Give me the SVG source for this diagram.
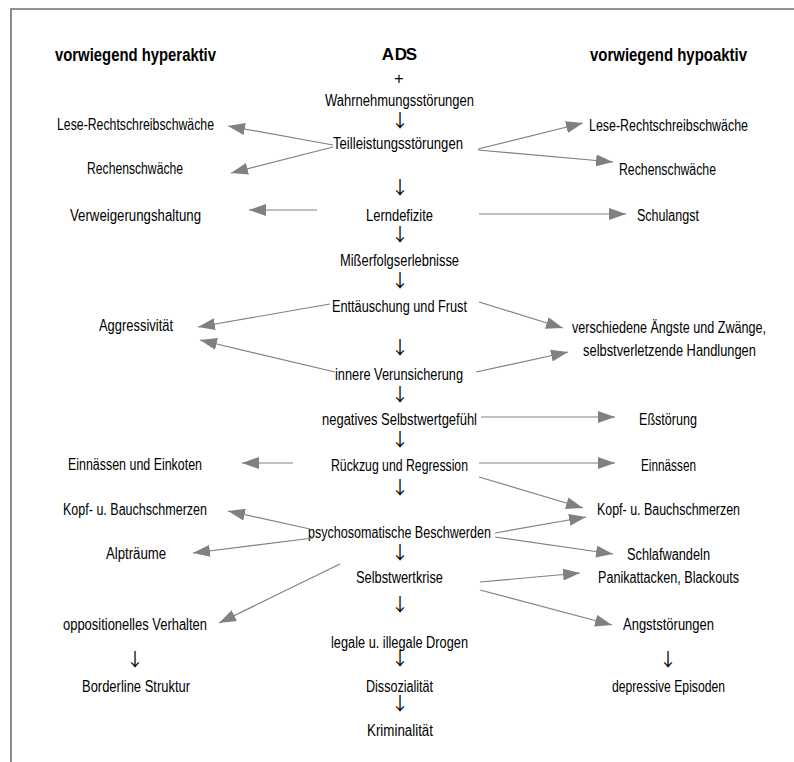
<svg xmlns="http://www.w3.org/2000/svg" width="794" height="762" viewBox="0 0 794 762">
<style>
text{font-family:"Liberation Sans Narrow","Liberation Sans",Arial,sans-serif;font-size:16px;fill:#000;text-anchor:middle}
.b{font-weight:bold;font-size:18px}
.a{font-weight:bold;font-size:17px}
.d{font-family:"Noto Sans CJK JP","Noto Sans CJK SC",sans-serif;font-size:18px}
.c line{stroke:#808080;stroke-width:1.2;fill:none;marker-end:url(#ah)}
.frame{stroke:#707070;stroke-width:1.6;fill:none}
</style>
<defs>
<marker id="ah" markerUnits="userSpaceOnUse" markerWidth="18" markerHeight="12" refX="17" refY="6" orient="auto">
<path d="M0,0 L17,6 L0,12 z" fill="#808080"/>
</marker>
</defs>
<rect width="794" height="762" fill="#fff"/>
<path class="frame" d="M11,762 L11,9 L794,9"/>

<g id="center">
<g id="n-ads"><text class="a" x="388 401 411.5" y="60">ADS</text></g>
<g id="n-plus"><text x="399" y="84">+</text></g>
<g id="n-wahr"><text x="399.5" y="106" textLength="149" lengthAdjust="spacingAndGlyphs">Wahrnehmungsstörungen</text></g>
<g id="n-teil"><text x="398" y="149" textLength="130" lengthAdjust="spacingAndGlyphs">Teilleistungsstörungen</text></g>
<g id="n-lern"><text x="399.5" y="221" textLength="67" lengthAdjust="spacingAndGlyphs">Lerndefizite</text></g>
<g id="n-miss"><text x="399.5" y="266" textLength="119" lengthAdjust="spacingAndGlyphs">Mißerfolgserlebnisse</text></g>
<g id="n-ent"><text x="399.5" y="312" textLength="135" lengthAdjust="spacingAndGlyphs">Enttäuschung und Frust</text></g>
<g id="n-inn"><text x="399" y="380" textLength="128" lengthAdjust="spacingAndGlyphs">innere Verunsicherung</text></g>
<g id="n-neg"><text x="399.5" y="425" textLength="155" lengthAdjust="spacingAndGlyphs">negatives Selbstwertgefühl</text></g>
<g id="n-rue"><text x="399.5" y="471" textLength="137" lengthAdjust="spacingAndGlyphs">Rückzug und Regression</text></g>
<g id="n-psy"><text x="399.5" y="538" textLength="183" lengthAdjust="spacingAndGlyphs">psychosomatische Beschwerden</text></g>
<g id="n-sel"><text x="399.5" y="583" textLength="87" lengthAdjust="spacingAndGlyphs">Selbstwertkrise</text></g>
<g id="n-drog"><text x="399.5" y="648" textLength="137" lengthAdjust="spacingAndGlyphs">legale u. illegale Drogen</text></g>
<g id="n-diss"><text x="399.5" y="692" textLength="67" lengthAdjust="spacingAndGlyphs">Dissozialität</text></g>
<g id="n-krim"><text x="400" y="736" textLength="66" lengthAdjust="spacingAndGlyphs">Kriminalität</text></g>
</g>

<g id="left">
<g id="l-title"><text class="b" x="135.5" y="61" textLength="161" lengthAdjust="spacingAndGlyphs">vorwiegend hyperaktiv</text></g>
<g id="l-lese"><text x="135.5" y="130" textLength="157" lengthAdjust="spacingAndGlyphs">Lese-Rechtschreibschwäche</text></g>
<g id="l-rech"><text x="135" y="174" textLength="96" lengthAdjust="spacingAndGlyphs">Rechenschwäche</text></g>
<g id="l-verw"><text x="135.5" y="221" textLength="131" lengthAdjust="spacingAndGlyphs">Verweigerungshaltung</text></g>
<g id="l-aggr"><text x="136" y="331" textLength="74" lengthAdjust="spacingAndGlyphs">Aggressivität</text></g>
<g id="l-einn"><text x="135" y="470" textLength="134" lengthAdjust="spacingAndGlyphs">Einnässen und Einkoten</text></g>
<g id="l-kopf"><text x="135" y="515" textLength="144" lengthAdjust="spacingAndGlyphs">Kopf- u. Bauchschmerzen</text></g>
<g id="l-alp"><text x="136" y="559" textLength="60" lengthAdjust="spacingAndGlyphs">Alpträume</text></g>
<g id="l-opp"><text x="135" y="630" textLength="144" lengthAdjust="spacingAndGlyphs">oppositionelles Verhalten</text></g>
<g id="l-bord"><text x="136" y="692" textLength="108" lengthAdjust="spacingAndGlyphs">Borderline Struktur</text></g>
</g>

<g id="right">
<g id="r-title"><text class="b" x="668.5" y="61" textLength="157" lengthAdjust="spacingAndGlyphs">vorwiegend hypoaktiv</text></g>
<g id="r-lese"><text x="668.5" y="131" textLength="159" lengthAdjust="spacingAndGlyphs">Lese-Rechtschreibschwäche</text></g>
<g id="r-rech"><text x="667.5" y="175" textLength="97" lengthAdjust="spacingAndGlyphs">Rechenschwäche</text></g>
<g id="r-schul"><text x="668" y="221" textLength="62" lengthAdjust="spacingAndGlyphs">Schulangst</text></g>
<g id="r-vers"><text transform="translate(669,333) scale(0.8,1)" x="0" y="0" textLength="242.5" lengthAdjust="spacingAndGlyphs">verschiedene Ängste und Zwänge,</text>
<text transform="translate(669.5,356) scale(0.8,1)" x="0" y="0" textLength="216" lengthAdjust="spacingAndGlyphs">selbstverletzende Handlungen</text></g>
<g id="r-ess"><text x="668" y="425" textLength="58" lengthAdjust="spacingAndGlyphs">Eßstörung</text></g>
<g id="r-einn"><text x="668.5" y="471" textLength="55" lengthAdjust="spacingAndGlyphs">Einnässen</text></g>
<g id="r-kopf"><text x="668.5" y="515" textLength="143" lengthAdjust="spacingAndGlyphs">Kopf- u. Bauchschmerzen</text></g>
<g id="r-schlaf"><text x="668.5" y="560" textLength="83" lengthAdjust="spacingAndGlyphs">Schlafwandeln</text></g>
<g id="r-panik"><text x="668.5" y="583" textLength="141" lengthAdjust="spacingAndGlyphs">Panikattacken, Blackouts</text></g>
<g id="r-angst"><text x="668.5" y="630" textLength="91" lengthAdjust="spacingAndGlyphs">Angststörungen</text></g>
<g id="r-dep"><text x="668.5" y="692" textLength="113" lengthAdjust="spacingAndGlyphs">depressive Episoden</text></g>
</g>

<g id="down-arrows">
<text class="d" x="400" y="127">↓</text>
<text class="d" x="400" y="194">↓</text>
<text class="d" x="400" y="241">↓</text>
<text class="d" x="400" y="287">↓</text>
<text class="d" x="400" y="354">↓</text>
<text class="d" x="400" y="401">↓</text>
<text class="d" x="400" y="446">↓</text>
<text class="d" x="400" y="494">↓</text>
<text class="d" x="400" y="559">↓</text>
<text class="d" x="400" y="611">↓</text>
<text class="d" x="400" y="665">↓</text>
<text class="d" x="400" y="710">↓</text>
<text class="d" x="135" y="666">↓</text>
<text class="d" x="668" y="666">↓</text>
</g>

<g id="connectors" class="c">
<line x1="333" y1="145" x2="228" y2="126"/>
<line x1="333" y1="147" x2="231" y2="173"/>
<line x1="478" y1="149" x2="583" y2="123"/>
<line x1="478" y1="150" x2="613" y2="162"/>
<line x1="317" y1="210" x2="249" y2="210"/>
<line x1="479" y1="214" x2="626" y2="214"/>
<line x1="330" y1="304" x2="198" y2="327"/>
<line x1="335" y1="372" x2="200" y2="340"/>
<line x1="479" y1="302" x2="563" y2="328"/>
<line x1="476" y1="372" x2="568" y2="352"/>
<line x1="481" y1="417" x2="615" y2="417"/>
<line x1="293" y1="463" x2="242" y2="463"/>
<line x1="479" y1="463" x2="615" y2="463"/>
<line x1="479" y1="477" x2="583" y2="508"/>
<line x1="310" y1="529" x2="228" y2="511"/>
<line x1="313" y1="538" x2="193" y2="553"/>
<line x1="495" y1="533" x2="586" y2="517"/>
<line x1="495" y1="537" x2="613" y2="554"/>
<line x1="340" y1="564" x2="219" y2="623"/>
<line x1="480" y1="582" x2="580" y2="573"/>
<line x1="480" y1="590" x2="612" y2="625"/>
</g>
</svg>
